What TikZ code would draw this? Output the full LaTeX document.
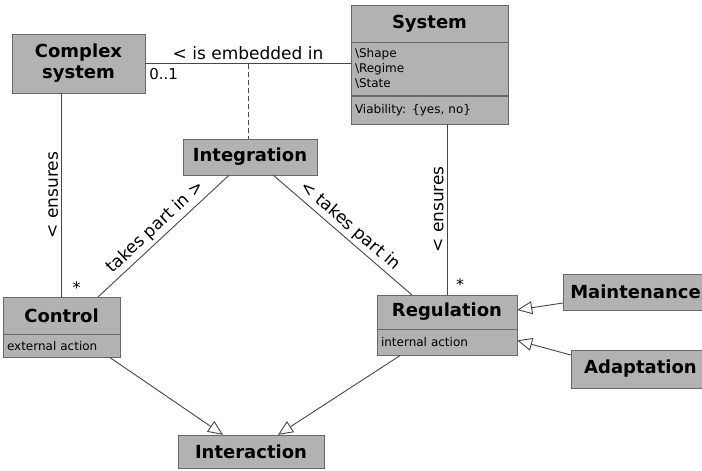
\documentclass[tikz,border=0pt]{standalone}
\usepackage{fontspec}
\setmainfont{DejaVu Sans}
\usetikzlibrary{positioning,arrows.meta}
\definecolor{boxgray}{RGB}{178,178,178}
\definecolor{edgegray}{RGB}{105,105,105}
\definecolor{linegray}{RGB}{70,70,70}
\tikzset{
  cls/.style={draw=edgegray, fill=boxgray, inner sep=2pt, align=center,
    font=\fontsize{18}{21}\selectfont\bfseries},
  comp/.style={draw=edgegray, fill=boxgray, inner xsep=4pt, inner ysep=2pt, align=left,
    font=\fontsize{12}{15}\selectfont},
  assoc/.style={draw=linegray, line width=0.9pt},
  lbl/.style={font=\fontsize{17}{20}\selectfont, inner sep=3pt},
  gen/.style={draw=linegray, line width=0.9pt,
    -{Triangle[length=15pt,width=13pt,fill=white]}},
}
\begin{document}
\begin{tikzpicture}[x=1pt,y=-1pt]
  \useasboundingbox (0,0) rectangle (702,471);
  % classes
  \node[cls, minimum width=133pt, minimum height=59pt] (cplx) at (78.5,63.5) {Complex\\system};
  \node[cls, minimum width=157pt, minimum height=37pt] (sys) at (429.5,23.5) {System};
  \node[comp, below=0pt of sys, text width=149pt, minimum height=53pt] (sysattr)
    {\textbackslash Shape\\\textbackslash Regime\\\textbackslash State};
  \node[comp, below=0pt of sysattr, text width=149pt, minimum height=28pt] (sysops)
    {Viability: \{yes, no\}};
  \node[cls, minimum width=134pt, minimum height=36pt] (integ) at (250,157) {Integration};
  \node[cls, minimum width=117pt, minimum height=37pt] (ctrl) at (61.5,315.5) {Control};
  \node[comp, below=0pt of ctrl, text width=109pt, minimum height=23pt] (ctrlcomp) {external action};
  \node[cls, minimum width=140pt, minimum height=34pt] (reg) at (447,312) {Regulation};
  \node[comp, below=0pt of reg, text width=132pt, minimum height=26pt] (regcomp) {internal action};
  \node[cls, minimum width=145pt, minimum height=36pt] (maint) at (635.5,292) {Maintenance};
  \node[cls, minimum width=139pt, minimum height=38pt] (adapt) at (640.5,369) {Adaptation};
  \node[cls, minimum width=146pt, minimum height=33pt] (inter) at (251,451.5) {Interaction};

  % associations
  \draw[assoc] (cplx.east) -- node[lbl, above] {< is embedded in}
    coordinate[pos=0.5] (emb) (cplx.east -| sys.west);
  \node[lbl, font=\fontsize{15}{18}\selectfont, below right=2pt and 1pt of cplx.east] (mult) {0..1};
  \draw[assoc, dash pattern=on 5pt off 3pt] (emb) -- (emb |- integ.north);
  \draw[assoc] (ctrl.north) -- node[lbl, sloped, above] {< ensures} (ctrl.north |- cplx.south);
  \node[lbl, font=\fontsize{16}{18}\selectfont, above right=0pt and 8pt of ctrl.north] (ctrlstar) {*};
  \draw[assoc] (reg.north) -- node[lbl, sloped, above] {< ensures} (reg.north |- sysops.south);
  \node[lbl, font=\fontsize{16}{18}\selectfont, above right=1pt and 6pt of reg.north] (regstar) {*};
  \draw[assoc] (ctrl.27.5) -- node[lbl, sloped, above] {takes part in >} (integ.221);
  \draw[assoc] (integ.322) -- node[lbl, sloped, above] {< takes part in} (reg.154);

  % generalisations
  \draw[gen] ([yshift=-11pt]maint.west) -- ([yshift=2pt]reg.east);
  \draw[gen] ([yshift=14pt]adapt.west) -- ([yshift=2pt]regcomp.east);
  \draw[gen] ([xshift=48.5pt]ctrlcomp.south) -- ([xshift=-28pt]inter.north);
  \draw[gen] ([xshift=-47pt]regcomp.south) -- ([xshift=27pt]inter.north);
\end{tikzpicture}
\end{document}
